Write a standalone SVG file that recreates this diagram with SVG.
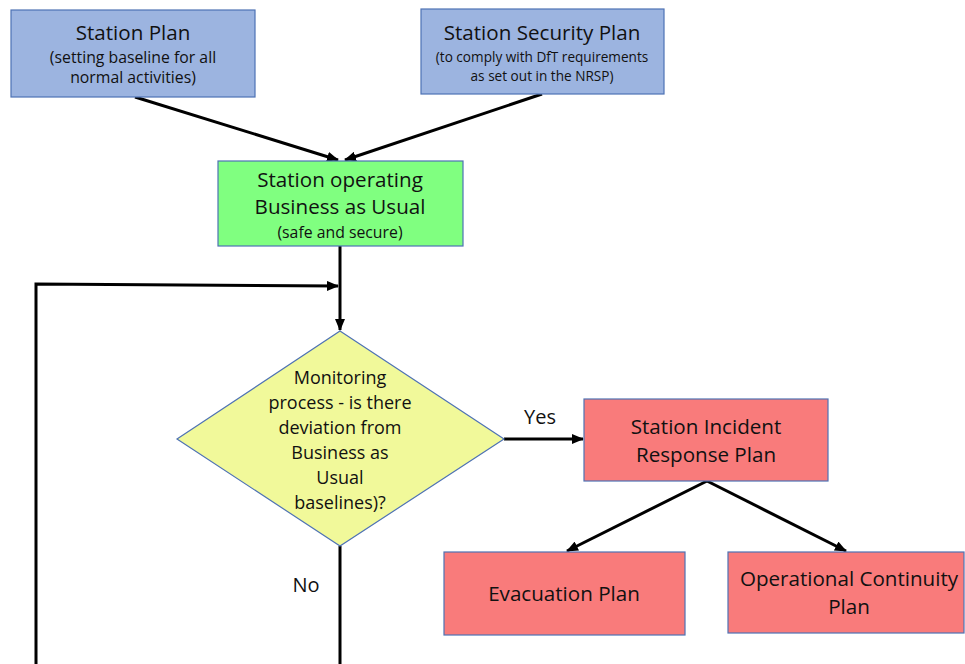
<svg xmlns="http://www.w3.org/2000/svg" width="965" height="664" viewBox="0 0 965 664">
<defs>
<marker id="ah" markerWidth="12" markerHeight="10" refX="11" refY="5" orient="auto" markerUnits="userSpaceOnUse">
<path d="M0,0 L12,5 L0,10 Z" fill="#000"/>
</marker>
<style>
.blue{fill:#9CB4E0;stroke:#4E72B4;stroke-width:1.2}
.green{fill:#80FF80;stroke:#4E72B4;stroke-width:1.2}
.yellow{fill:#F1F99A;stroke:#4E72B4;stroke-width:1.2}
.red{fill:#F97B7B;stroke:#4E72B4;stroke-width:1.2}
text{font-family:"Open Sans","Liberation Sans",sans-serif;fill:#111;text-anchor:middle}
.t{font-size:20.6px}
.s{font-size:15.8px}
.xs{font-size:13.6px}
.d{font-size:18px}
.yn{font-size:20px}
.con{stroke:#000;stroke-width:3;fill:none}
</style>
</defs>
<rect width="965" height="664" fill="#fff"/>
<g id="connectors">
<line class="con" x1="135" y1="97" x2="338" y2="160" marker-end="url(#ah)"/>
<line class="con" x1="542" y1="94" x2="345" y2="160" marker-end="url(#ah)"/>
<line class="con" x1="340" y1="246" x2="340" y2="330" marker-end="url(#ah)"/>
<polyline class="con" points="36,664 36,284 338,286" marker-end="url(#ah)"/>
<line class="con" x1="504" y1="439" x2="583" y2="439" marker-end="url(#ah)"/>
<line class="con" x1="340" y1="546" x2="340" y2="664"/>
<line class="con" x1="707" y1="481" x2="567" y2="551" marker-end="url(#ah)"/>
<line class="con" x1="707" y1="481" x2="846" y2="551" marker-end="url(#ah)"/>
<text class="yn" x="540" y="424">Yes</text>
<text class="yn" x="306" y="592">No</text>
</g>
<g id="station-plan">
<rect class="blue" x="11" y="10" width="244" height="87"/>
<text class="t" x="133" y="40">Station Plan</text>
<text class="s" x="133" y="63">(setting baseline for all</text>
<text class="s" x="133" y="83">normal activities)</text>
</g>
<g id="security-plan">
<rect class="blue" x="421" y="9" width="243" height="85"/>
<text class="t" x="542" y="40">Station Security Plan</text>
<text class="xs" x="542" y="62">(to comply with DfT requirements</text>
<text class="xs" x="542" y="81">as set out in the NRSP)</text>
</g>
<g id="bau">
<rect class="green" x="218" y="161" width="245" height="85"/>
<text class="t" x="340" y="187">Station operating</text>
<text class="t" x="340" y="214">Business as Usual</text>
<text class="s" x="340" y="238">(safe and secure)</text>
</g>
<g id="monitoring">
<polygon class="yellow" points="340,331 504,439 340,546 177,439"/>
<text class="d" x="340" y="384">Monitoring</text>
<text class="d" x="340" y="409">process - is there</text>
<text class="d" x="340" y="434">deviation from</text>
<text class="d" x="340" y="459">Business as</text>
<text class="d" x="340" y="484">Usual</text>
<text class="d" x="340" y="509">baselines)?</text>
</g>
<g id="incident">
<rect class="red" x="584" y="399" width="244" height="82"/>
<text class="t" x="706" y="434">Station Incident</text>
<text class="t" x="706" y="462">Response Plan</text>
</g>
<g id="evacuation">
<rect class="red" x="444" y="552" width="241" height="83"/>
<text class="t" x="564" y="601">Evacuation Plan</text>
</g>
<g id="continuity">
<rect class="red" x="728" y="552" width="236" height="81"/>
<text class="t" x="849" y="586">Operational Continuity</text>
<text class="t" x="849" y="614">Plan</text>
</g>
</svg>
